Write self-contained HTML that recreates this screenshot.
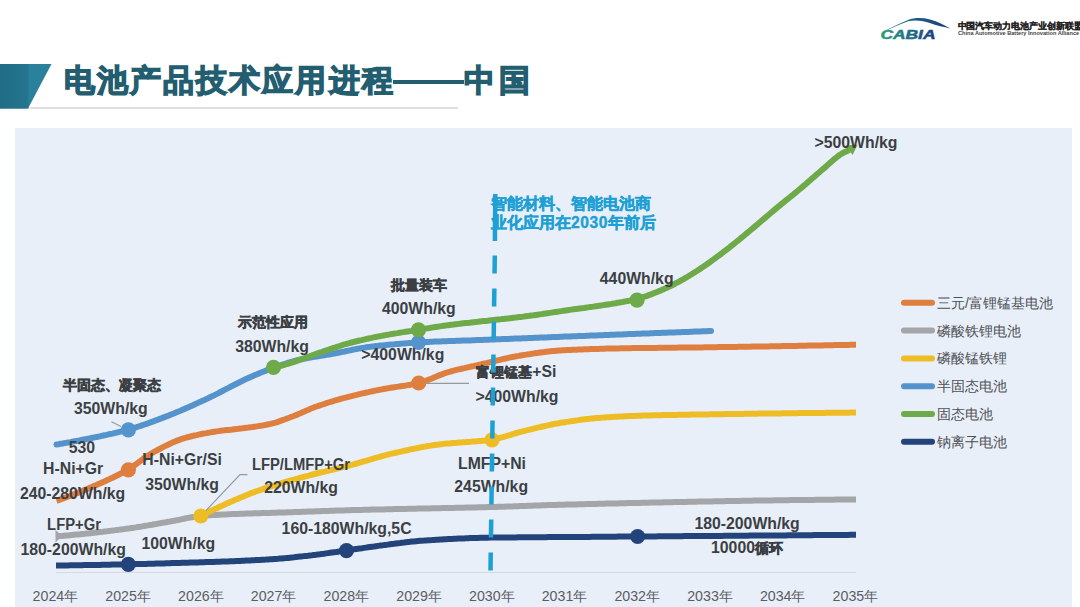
<!DOCTYPE html>
<html><head><meta charset="utf-8"><style>
html,body{margin:0;padding:0;background:#fff;}
body{width:1080px;height:607px;position:relative;overflow:hidden;font-family:"Liberation Sans",sans-serif;}
.c{-webkit-text-stroke:0.5px currentColor;}
.l{position:absolute;white-space:nowrap;transform:translate(-50%,-50%);line-height:1;}
.y{position:absolute;top:595.6px;transform:translate(-50%,-50%);white-space:nowrap;font-size:14.2px;color:#5a5d62;line-height:1;}
.lg{position:absolute;left:937px;transform:translateY(-50%);white-space:nowrap;font-size:14px;color:#4d5054;line-height:1;}
#bg{position:absolute;left:15px;top:128px;width:1057px;height:479px;background:#e9eff8;}
svg{position:absolute;left:0;top:0;}
.title{position:absolute;left:63.8px;top:80px;transform:translateY(-50%);font-size:30.5px;letter-spacing:2.1px;font-weight:bold;color:#235d70;white-space:nowrap;line-height:1;-webkit-text-stroke:1.3px #235d70;}
#note{position:absolute;left:491px;top:193.5px;font-size:15.6px;font-weight:bold;color:#1ea0d5;line-height:19px;white-space:nowrap;-webkit-text-stroke:0.4px #1ea0d5;}
#logo-cn{position:absolute;left:957.5px;top:25.5px;transform:translateY(-50%);font-size:8.6px;letter-spacing:-0.05px;-webkit-text-stroke:0.2px #222;font-weight:bold;color:#222;white-space:nowrap;line-height:1;}
#logo-en{position:absolute;left:958px;top:34.2px;transform:translateY(-50%);font-size:5.6px;font-weight:bold;color:#444;white-space:nowrap;line-height:1;}
</style></head><body>
<div id="bg"></div>
<svg width="1080" height="607" viewBox="0 0 1080 607">
 <defs>
  <linearGradient id="ban" x1="0" x2="1" y1="0" y2="0"><stop offset="0" stop-color="#206c85"/><stop offset="1" stop-color="#247590"/></linearGradient>
  <linearGradient id="sw" x1="0" x2="1" y1="0" y2="0"><stop offset="0" stop-color="#2a8c8c"/><stop offset="0.45" stop-color="#1d5e86"/><stop offset="1" stop-color="#183f7c"/></linearGradient>
  <linearGradient id="cab" x1="0" x2="1" y1="0" y2="0"><stop offset="0" stop-color="#2aa07a"/><stop offset="0.5" stop-color="#1f6f8a"/><stop offset="1" stop-color="#1b3f7a"/></linearGradient>
 </defs>
 <polygon points="0,64 51.5,64 28,108.5 0,108.5" fill="#2b809c"/><rect x="0" y="64" width="28.5" height="44.5" fill="url(#ban)"/>
 <line x1="30" y1="108" x2="458" y2="108" stroke="#d3d3d3" stroke-width="1.5"/>
  <!-- logo -->
 <path d="M882.5,32.2 C890,28 900,23.5 908,20 C914,17.6 922,17.4 930,19.4 C938,21.6 944,25 950.5,28.4 C944,27.2 937,25.6 929,22.8 C921,20.2 914,19.8 908,21.3 C900,24.3 890,28.8 882.5,32.2 Z" fill="url(#sw)"/>
 <text x="880.5" y="38.8" font-family="Liberation Sans" font-weight="bold" font-style="italic" font-size="12.5" fill="url(#cab)" stroke="url(#cab)" stroke-width="0.5" textLength="55" lengthAdjust="spacingAndGlyphs">CABIA</text>
<!-- axis -->
 <line x1="56" y1="572.5" x2="856" y2="572.5" stroke="#d5dbe3" stroke-width="1.2"/>
 <!-- lines -->
 <g fill="none" stroke-width="6" stroke-linejoin="round">
  <path d="M56.0,536.3 L58.0,536.2 L60.0,536.0 L62.0,535.9 L64.0,535.7 L66.0,535.5 L68.0,535.4 L70.0,535.2 L72.0,535.0 L74.0,534.8 L76.0,534.6 L78.0,534.4 L80.0,534.3 L82.0,534.1 L84.0,533.9 L86.0,533.6 L88.0,533.4 L90.0,533.2 L92.0,533.0 L94.0,532.8 L96.0,532.6 L98.0,532.3 L100.0,532.1 L102.0,531.9 L104.0,531.6 L106.0,531.4 L108.0,531.1 L110.0,530.9 L112.0,530.6 L114.0,530.4 L116.0,530.1 L118.0,529.9 L120.0,529.6 L122.0,529.4 L124.0,529.1 L126.0,528.8 L128.0,528.6 L130.0,528.3 L132.0,528.0 L134.0,527.7 L136.0,527.4 L138.0,527.0 L140.0,526.7 L142.0,526.4 L144.0,526.0 L146.0,525.7 L148.0,525.4 L150.0,525.0 L152.0,524.7 L154.0,524.3 L156.0,524.0 L158.0,523.6 L160.0,523.3 L162.0,522.9 L164.0,522.5 L166.0,522.2 L168.0,521.8 L170.0,521.5 L172.0,521.1 L174.0,520.8 L176.0,520.4 L178.0,520.0 L180.0,519.6 L182.0,519.1 L184.0,518.7 L186.0,518.3 L188.0,517.9 L190.0,517.5 L192.0,517.2 L194.0,516.9 L196.0,516.6 L198.0,516.3 L200.0,516.1 L202.0,515.9 L204.0,515.7 L206.0,515.6 L208.0,515.4 L210.0,515.3 L212.0,515.1 L214.0,515.0 L216.0,514.9 L218.0,514.8 L220.0,514.7 L222.0,514.6 L224.0,514.5 L226.0,514.4 L228.0,514.3 L230.0,514.2 L232.0,514.1 L234.0,514.0 L236.0,514.0 L238.0,513.9 L240.0,513.8 L242.0,513.7 L244.0,513.7 L246.0,513.6 L248.0,513.5 L250.0,513.5 L252.0,513.4 L254.0,513.3 L256.0,513.3 L258.0,513.2 L260.0,513.2 L262.0,513.1 L264.0,513.0 L266.0,513.0 L268.0,512.9 L270.0,512.9 L272.0,512.8 L274.0,512.8 L276.0,512.7 L278.0,512.6 L280.0,512.6 L282.0,512.5 L284.0,512.5 L286.0,512.4 L288.0,512.3 L290.0,512.3 L292.0,512.2 L294.0,512.1 L296.0,512.0 L298.0,512.0 L300.0,511.9 L302.0,511.8 L304.0,511.8 L306.0,511.7 L308.0,511.6 L310.0,511.6 L312.0,511.5 L314.0,511.4 L316.0,511.3 L318.0,511.3 L320.0,511.2 L322.0,511.1 L324.0,511.1 L326.0,511.0 L328.0,510.9 L330.0,510.8 L332.0,510.8 L334.0,510.7 L336.0,510.6 L338.0,510.6 L340.0,510.5 L342.0,510.4 L344.0,510.4 L346.0,510.3 L348.0,510.3 L350.0,510.2 L352.0,510.1 L354.0,510.1 L356.0,510.0 L358.0,510.0 L360.0,509.9 L362.0,509.9 L364.0,509.8 L366.0,509.8 L368.0,509.7 L370.0,509.7 L372.0,509.6 L374.0,509.6 L376.0,509.5 L378.0,509.5 L380.0,509.4 L382.0,509.4 L384.0,509.4 L386.0,509.3 L388.0,509.3 L390.0,509.2 L392.0,509.2 L394.0,509.1 L396.0,509.1 L398.0,509.1 L400.0,509.0 L402.0,509.0 L404.0,508.9 L406.0,508.9 L408.0,508.8 L410.0,508.8 L412.0,508.8 L414.0,508.7 L416.0,508.7 L418.0,508.6 L420.0,508.6 L422.0,508.5 L424.0,508.5 L426.0,508.5 L428.0,508.4 L430.0,508.4 L432.0,508.3 L434.0,508.3 L436.0,508.2 L438.0,508.2 L440.0,508.2 L442.0,508.1 L444.0,508.1 L446.0,508.0 L448.0,508.0 L450.0,508.0 L452.0,507.9 L454.0,507.9 L456.0,507.8 L458.0,507.8 L460.0,507.7 L462.0,507.7 L464.0,507.7 L466.0,507.6 L468.0,507.6 L470.0,507.5 L472.0,507.5 L474.0,507.4 L476.0,507.4 L478.0,507.3 L480.0,507.3 L482.0,507.3 L484.0,507.2 L486.0,507.2 L488.0,507.1 L490.0,507.1 L492.0,507.0 L494.0,506.9 L496.0,506.9 L498.0,506.8 L500.0,506.8 L502.0,506.7 L504.0,506.7 L506.0,506.6 L508.0,506.5 L510.0,506.5 L512.0,506.4 L514.0,506.3 L516.0,506.3 L518.0,506.2 L520.0,506.1 L522.0,506.0 L524.0,506.0 L526.0,505.9 L528.0,505.8 L530.0,505.8 L532.0,505.7 L534.0,505.6 L536.0,505.6 L538.0,505.5 L540.0,505.4 L542.0,505.3 L544.0,505.3 L546.0,505.2 L548.0,505.1 L550.0,505.1 L552.0,505.0 L554.0,504.9 L556.0,504.9 L558.0,504.8 L560.0,504.8 L562.0,504.7 L564.0,504.7 L566.0,504.6 L568.0,504.5 L570.0,504.5 L572.0,504.5 L574.0,504.4 L576.0,504.4 L578.0,504.3 L580.0,504.3 L582.0,504.2 L584.0,504.2 L586.0,504.1 L588.0,504.1 L590.0,504.0 L592.0,504.0 L594.0,503.9 L596.0,503.9 L598.0,503.8 L600.0,503.8 L602.0,503.7 L604.0,503.7 L606.0,503.6 L608.0,503.6 L610.0,503.6 L612.0,503.5 L614.0,503.5 L616.0,503.4 L618.0,503.4 L620.0,503.3 L622.0,503.3 L624.0,503.2 L626.0,503.2 L628.0,503.1 L630.0,503.1 L632.0,503.0 L634.0,503.0 L636.0,503.0 L638.0,502.9 L640.0,502.9 L642.0,502.8 L644.0,502.8 L646.0,502.7 L648.0,502.7 L650.0,502.6 L652.0,502.6 L654.0,502.6 L656.0,502.5 L658.0,502.5 L660.0,502.4 L662.0,502.4 L664.0,502.3 L666.0,502.3 L668.0,502.3 L670.0,502.2 L672.0,502.2 L674.0,502.1 L676.0,502.1 L678.0,502.1 L680.0,502.0 L682.0,502.0 L684.0,501.9 L686.0,501.9 L688.0,501.8 L690.0,501.8 L692.0,501.8 L694.0,501.7 L696.0,501.7 L698.0,501.6 L700.0,501.6 L702.0,501.6 L704.0,501.5 L706.0,501.5 L708.0,501.5 L710.0,501.4 L712.0,501.4 L714.0,501.3 L716.0,501.3 L718.0,501.3 L720.0,501.2 L722.0,501.2 L724.0,501.2 L726.0,501.1 L728.0,501.1 L730.0,501.1 L732.0,501.0 L734.0,501.0 L736.0,500.9 L738.0,500.9 L740.0,500.9 L742.0,500.8 L744.0,500.8 L746.0,500.8 L748.0,500.7 L750.0,500.7 L752.0,500.7 L754.0,500.6 L756.0,500.6 L758.0,500.6 L760.0,500.6 L762.0,500.5 L764.0,500.5 L766.0,500.5 L768.0,500.4 L770.0,500.4 L772.0,500.4 L774.0,500.3 L776.0,500.3 L778.0,500.3 L780.0,500.3 L782.0,500.2 L784.0,500.2 L786.0,500.2 L788.0,500.2 L790.0,500.1 L792.0,500.1 L794.0,500.1 L796.0,500.1 L798.0,500.0 L800.0,500.0 L802.0,500.0 L804.0,500.0 L806.0,499.9 L808.0,499.9 L810.0,499.9 L812.0,499.9 L814.0,499.9 L816.0,499.8 L818.0,499.8 L820.0,499.8 L822.0,499.8 L824.0,499.7 L826.0,499.7 L828.0,499.7 L830.0,499.7 L832.0,499.7 L834.0,499.7 L836.0,499.6 L838.0,499.6 L840.0,499.6 L842.0,499.6 L844.0,499.6 L846.0,499.6 L848.0,499.6 L850.0,499.5 L852.0,499.5 L854.0,499.5 L856.0,499.5" stroke="#a3a5a8"/>
  <path d="M56.0,565.5 L58.0,565.5 L60.0,565.5 L62.0,565.4 L64.0,565.4 L66.0,565.4 L68.0,565.4 L70.0,565.3 L72.0,565.3 L74.0,565.3 L76.0,565.2 L78.0,565.2 L80.0,565.2 L82.0,565.2 L84.0,565.1 L86.0,565.1 L88.0,565.1 L90.0,565.0 L92.0,565.0 L94.0,565.0 L96.0,564.9 L98.0,564.9 L100.0,564.9 L102.0,564.8 L104.0,564.8 L106.0,564.7 L108.0,564.7 L110.0,564.7 L112.0,564.6 L114.0,564.6 L116.0,564.6 L118.0,564.5 L120.0,564.5 L122.0,564.4 L124.0,564.4 L126.0,564.3 L128.0,564.3 L130.0,564.3 L132.0,564.2 L134.0,564.2 L136.0,564.1 L138.0,564.1 L140.0,564.0 L142.0,564.0 L144.0,563.9 L146.0,563.9 L148.0,563.8 L150.0,563.8 L152.0,563.7 L154.0,563.7 L156.0,563.6 L158.0,563.6 L160.0,563.5 L162.0,563.4 L164.0,563.4 L166.0,563.3 L168.0,563.3 L170.0,563.2 L172.0,563.1 L174.0,563.1 L176.0,563.0 L178.0,563.0 L180.0,562.9 L182.0,562.8 L184.0,562.8 L186.0,562.7 L188.0,562.7 L190.0,562.6 L192.0,562.5 L194.0,562.5 L196.0,562.4 L198.0,562.4 L200.0,562.3 L202.0,562.2 L204.0,562.2 L206.0,562.1 L208.0,562.1 L210.0,562.0 L212.0,561.9 L214.0,561.9 L216.0,561.8 L218.0,561.7 L220.0,561.7 L222.0,561.6 L224.0,561.5 L226.0,561.5 L228.0,561.4 L230.0,561.3 L232.0,561.2 L234.0,561.2 L236.0,561.1 L238.0,561.0 L240.0,560.9 L242.0,560.8 L244.0,560.7 L246.0,560.6 L248.0,560.5 L250.0,560.4 L252.0,560.3 L254.0,560.2 L256.0,560.1 L258.0,560.0 L260.0,559.9 L262.0,559.8 L264.0,559.7 L266.0,559.6 L268.0,559.4 L270.0,559.3 L272.0,559.2 L274.0,559.0 L276.0,558.9 L278.0,558.8 L280.0,558.6 L282.0,558.4 L284.0,558.2 L286.0,558.1 L288.0,557.9 L290.0,557.7 L292.0,557.5 L294.0,557.3 L296.0,557.0 L298.0,556.8 L300.0,556.6 L302.0,556.4 L304.0,556.1 L306.0,555.9 L308.0,555.7 L310.0,555.4 L312.0,555.2 L314.0,554.9 L316.0,554.7 L318.0,554.4 L320.0,554.2 L322.0,553.9 L324.0,553.7 L326.0,553.4 L328.0,553.1 L330.0,552.8 L332.0,552.5 L334.0,552.2 L336.0,552.0 L338.0,551.7 L340.0,551.4 L342.0,551.1 L344.0,550.8 L346.0,550.5 L348.0,550.2 L350.0,549.9 L352.0,549.6 L354.0,549.3 L356.0,549.0 L358.0,548.7 L360.0,548.4 L362.0,548.2 L364.0,547.9 L366.0,547.6 L368.0,547.3 L370.0,547.0 L372.0,546.7 L374.0,546.5 L376.0,546.2 L378.0,545.9 L380.0,545.6 L382.0,545.4 L384.0,545.1 L386.0,544.9 L388.0,544.6 L390.0,544.3 L392.0,544.0 L394.0,543.8 L396.0,543.5 L398.0,543.2 L400.0,543.0 L402.0,542.7 L404.0,542.5 L406.0,542.2 L408.0,542.0 L410.0,541.8 L412.0,541.5 L414.0,541.4 L416.0,541.2 L418.0,541.0 L420.0,540.8 L422.0,540.7 L424.0,540.6 L426.0,540.4 L428.0,540.3 L430.0,540.2 L432.0,540.1 L434.0,539.9 L436.0,539.8 L438.0,539.7 L440.0,539.6 L442.0,539.5 L444.0,539.3 L446.0,539.2 L448.0,539.1 L450.0,539.0 L452.0,538.9 L454.0,538.8 L456.0,538.7 L458.0,538.6 L460.0,538.5 L462.0,538.5 L464.0,538.4 L466.0,538.3 L468.0,538.2 L470.0,538.1 L472.0,538.1 L474.0,538.0 L476.0,537.9 L478.0,537.9 L480.0,537.8 L482.0,537.8 L484.0,537.7 L486.0,537.7 L488.0,537.7 L490.0,537.6 L492.0,537.6 L494.0,537.6 L496.0,537.5 L498.0,537.5 L500.0,537.5 L502.0,537.5 L504.0,537.5 L506.0,537.4 L508.0,537.4 L510.0,537.4 L512.0,537.4 L514.0,537.4 L516.0,537.4 L518.0,537.3 L520.0,537.3 L522.0,537.3 L524.0,537.3 L526.0,537.3 L528.0,537.3 L530.0,537.3 L532.0,537.2 L534.0,537.2 L536.0,537.2 L538.0,537.2 L540.0,537.2 L542.0,537.2 L544.0,537.2 L546.0,537.2 L548.0,537.1 L550.0,537.1 L552.0,537.1 L554.0,537.1 L556.0,537.1 L558.0,537.1 L560.0,537.1 L562.0,537.1 L564.0,537.0 L566.0,537.0 L568.0,537.0 L570.0,537.0 L572.0,537.0 L574.0,537.0 L576.0,537.0 L578.0,536.9 L580.0,536.9 L582.0,536.9 L584.0,536.9 L586.0,536.9 L588.0,536.9 L590.0,536.9 L592.0,536.8 L594.0,536.8 L596.0,536.8 L598.0,536.8 L600.0,536.8 L602.0,536.8 L604.0,536.7 L606.0,536.7 L608.0,536.7 L610.0,536.7 L612.0,536.7 L614.0,536.7 L616.0,536.7 L618.0,536.6 L620.0,536.6 L622.0,536.6 L624.0,536.6 L626.0,536.6 L628.0,536.6 L630.0,536.6 L632.0,536.5 L634.0,536.5 L636.0,536.5 L638.0,536.5 L640.0,536.5 L642.0,536.5 L644.0,536.5 L646.0,536.4 L648.0,536.4 L650.0,536.4 L652.0,536.4 L654.0,536.4 L656.0,536.4 L658.0,536.3 L660.0,536.3 L662.0,536.3 L664.0,536.3 L666.0,536.3 L668.0,536.3 L670.0,536.3 L672.0,536.2 L674.0,536.2 L676.0,536.2 L678.0,536.2 L680.0,536.2 L682.0,536.2 L684.0,536.1 L686.0,536.1 L688.0,536.1 L690.0,536.1 L692.0,536.1 L694.0,536.1 L696.0,536.1 L698.0,536.0 L700.0,536.0 L702.0,536.0 L704.0,536.0 L706.0,536.0 L708.0,536.0 L710.0,535.9 L712.0,535.9 L714.0,535.9 L716.0,535.9 L718.0,535.9 L720.0,535.9 L722.0,535.9 L724.0,535.8 L726.0,535.8 L728.0,535.8 L730.0,535.8 L732.0,535.8 L734.0,535.8 L736.0,535.7 L738.0,535.7 L740.0,535.7 L742.0,535.7 L744.0,535.7 L746.0,535.7 L748.0,535.7 L750.0,535.6 L752.0,535.6 L754.0,535.6 L756.0,535.6 L758.0,535.6 L760.0,535.6 L762.0,535.5 L764.0,535.5 L766.0,535.5 L768.0,535.5 L770.0,535.5 L772.0,535.5 L774.0,535.5 L776.0,535.4 L778.0,535.4 L780.0,535.4 L782.0,535.4 L784.0,535.4 L786.0,535.4 L788.0,535.3 L790.0,535.3 L792.0,535.3 L794.0,535.3 L796.0,535.3 L798.0,535.3 L800.0,535.2 L802.0,535.2 L804.0,535.2 L806.0,535.2 L808.0,535.2 L810.0,535.2 L812.0,535.2 L814.0,535.1 L816.0,535.1 L818.0,535.1 L820.0,535.1 L822.0,535.1 L824.0,535.1 L826.0,535.0 L828.0,535.0 L830.0,535.0 L832.0,535.0 L834.0,535.0 L836.0,535.0 L838.0,534.9 L840.0,534.9 L842.0,534.9 L844.0,534.9 L846.0,534.9 L848.0,534.9 L850.0,534.8 L852.0,534.8 L854.0,534.8 L856.0,534.8" stroke="#23447a"/>
  <path d="M200.7,516.0 L202.7,515.0 L204.7,514.0 L206.7,513.0 L208.7,512.0 L210.7,511.0 L212.7,510.1 L214.7,509.1 L216.7,508.2 L218.7,507.2 L220.7,506.3 L222.7,505.4 L224.7,504.5 L226.7,503.6 L228.7,502.7 L230.7,501.8 L232.7,501.0 L234.7,500.1 L236.7,499.2 L238.7,498.4 L240.7,497.5 L242.7,496.7 L244.7,495.9 L246.7,495.0 L248.7,494.2 L250.7,493.4 L252.7,492.7 L254.7,491.9 L256.7,491.2 L258.7,490.5 L260.7,489.8 L262.7,489.1 L264.7,488.4 L266.7,487.7 L268.7,487.1 L270.7,486.4 L272.7,485.8 L274.7,485.2 L276.7,484.6 L278.7,484.0 L280.7,483.4 L282.7,482.8 L284.7,482.2 L286.7,481.6 L288.7,481.0 L290.7,480.5 L292.7,479.9 L294.7,479.4 L296.7,478.8 L298.7,478.3 L300.7,477.7 L302.7,477.2 L304.7,476.6 L306.7,476.1 L308.7,475.6 L310.7,475.0 L312.7,474.5 L314.7,474.0 L316.7,473.5 L318.7,473.0 L320.7,472.5 L322.7,472.0 L324.7,471.6 L326.7,471.1 L328.7,470.6 L330.7,470.1 L332.7,469.6 L334.7,469.2 L336.7,468.7 L338.7,468.2 L340.7,467.7 L342.7,467.2 L344.7,466.7 L346.7,466.2 L348.7,465.7 L350.7,465.1 L352.7,464.6 L354.7,464.0 L356.7,463.5 L358.7,462.9 L360.7,462.3 L362.7,461.7 L364.7,461.1 L366.7,460.6 L368.7,460.0 L370.7,459.4 L372.7,458.8 L374.7,458.2 L376.7,457.6 L378.7,457.1 L380.7,456.5 L382.7,456.0 L384.7,455.4 L386.7,454.9 L388.7,454.4 L390.7,453.9 L392.7,453.4 L394.7,453.0 L396.7,452.5 L398.7,452.1 L400.7,451.6 L402.7,451.2 L404.7,450.7 L406.7,450.3 L408.7,449.8 L410.7,449.4 L412.7,449.0 L414.7,448.6 L416.7,448.2 L418.7,447.8 L420.7,447.4 L422.7,447.0 L424.7,446.6 L426.7,446.3 L428.7,445.9 L430.7,445.6 L432.7,445.3 L434.7,445.0 L436.7,444.7 L438.7,444.5 L440.7,444.2 L442.7,444.0 L444.7,443.8 L446.7,443.6 L448.7,443.4 L450.7,443.3 L452.7,443.1 L454.7,442.9 L456.7,442.8 L458.7,442.6 L460.7,442.5 L462.7,442.3 L464.7,442.2 L466.7,442.0 L468.7,441.9 L470.7,441.7 L472.7,441.6 L474.7,441.4 L476.7,441.3 L478.7,441.1 L480.7,440.9 L482.7,440.7 L484.7,440.5 L486.7,440.2 L488.7,440.0 L490.7,439.7 L492.7,439.4 L494.7,439.1 L496.7,438.7 L498.7,438.2 L500.7,437.7 L502.7,437.2 L504.7,436.6 L506.7,436.0 L508.7,435.4 L510.7,434.8 L512.7,434.1 L514.7,433.5 L516.7,433.0 L518.7,432.4 L520.7,431.9 L522.7,431.4 L524.7,430.9 L526.7,430.4 L528.7,429.9 L530.7,429.4 L532.7,428.9 L534.7,428.4 L536.7,427.9 L538.7,427.4 L540.7,427.0 L542.7,426.5 L544.7,426.0 L546.7,425.6 L548.7,425.1 L550.7,424.7 L552.7,424.3 L554.7,423.9 L556.7,423.5 L558.7,423.2 L560.7,422.8 L562.7,422.5 L564.7,422.2 L566.7,421.9 L568.7,421.6 L570.7,421.3 L572.7,421.0 L574.7,420.7 L576.7,420.4 L578.7,420.1 L580.7,419.8 L582.7,419.6 L584.7,419.3 L586.7,419.1 L588.7,418.9 L590.7,418.6 L592.7,418.4 L594.7,418.2 L596.7,418.0 L598.7,417.9 L600.7,417.7 L602.7,417.6 L604.7,417.4 L606.7,417.3 L608.7,417.2 L610.7,417.0 L612.7,416.9 L614.7,416.8 L616.7,416.7 L618.7,416.6 L620.7,416.5 L622.7,416.4 L624.7,416.3 L626.7,416.2 L628.7,416.1 L630.7,416.0 L632.7,415.9 L634.7,415.9 L636.7,415.8 L638.7,415.7 L640.7,415.7 L642.7,415.6 L644.7,415.6 L646.7,415.5 L648.7,415.4 L650.7,415.4 L652.7,415.3 L654.7,415.3 L656.7,415.3 L658.7,415.2 L660.7,415.2 L662.7,415.1 L664.7,415.1 L666.7,415.0 L668.7,415.0 L670.7,415.0 L672.7,414.9 L674.7,414.9 L676.7,414.9 L678.7,414.8 L680.7,414.8 L682.7,414.8 L684.7,414.7 L686.7,414.7 L688.7,414.7 L690.7,414.6 L692.7,414.6 L694.7,414.6 L696.7,414.6 L698.7,414.5 L700.7,414.5 L702.7,414.5 L704.7,414.4 L706.7,414.4 L708.7,414.4 L710.7,414.3 L712.7,414.3 L714.7,414.3 L716.7,414.2 L718.7,414.2 L720.7,414.2 L722.7,414.2 L724.7,414.1 L726.7,414.1 L728.7,414.1 L730.7,414.0 L732.7,414.0 L734.7,414.0 L736.7,413.9 L738.7,413.9 L740.7,413.9 L742.7,413.9 L744.7,413.8 L746.7,413.8 L748.7,413.8 L750.7,413.7 L752.7,413.7 L754.7,413.7 L756.7,413.7 L758.7,413.6 L760.7,413.6 L762.7,413.6 L764.7,413.6 L766.7,413.5 L768.7,413.5 L770.7,413.5 L772.7,413.5 L774.7,413.4 L776.7,413.4 L778.7,413.4 L780.7,413.4 L782.7,413.3 L784.7,413.3 L786.7,413.3 L788.7,413.3 L790.7,413.2 L792.7,413.2 L794.7,413.2 L796.7,413.2 L798.7,413.1 L800.7,413.1 L802.7,413.1 L804.7,413.1 L806.7,413.0 L808.7,413.0 L810.7,413.0 L812.7,413.0 L814.7,413.0 L816.7,412.9 L818.7,412.9 L820.7,412.9 L822.7,412.9 L824.7,412.9 L826.7,412.8 L828.7,412.8 L830.7,412.8 L832.7,412.8 L834.7,412.8 L836.7,412.8 L838.7,412.7 L840.7,412.7 L842.7,412.7 L844.7,412.7 L846.7,412.7 L848.7,412.7 L850.7,412.6 L852.7,412.6 L854.7,412.6 L856.0,412.6" stroke="#eebd25"/>
  <path d="M56.5,500.8 L58.5,500.1 L60.5,499.4 L62.5,498.7 L64.5,497.9 L66.5,497.2 L68.5,496.5 L70.5,495.7 L72.5,494.9 L74.5,494.1 L76.5,493.4 L78.5,492.6 L80.5,491.7 L82.5,490.9 L84.5,490.1 L86.5,489.3 L88.5,488.4 L90.5,487.6 L92.5,486.7 L94.5,485.8 L96.5,485.0 L98.5,484.1 L100.5,483.2 L102.5,482.3 L104.5,481.4 L106.5,480.5 L108.5,479.6 L110.5,478.6 L112.5,477.7 L114.5,476.7 L116.5,475.7 L118.5,474.7 L120.5,473.7 L122.5,472.6 L124.5,471.5 L126.5,470.4 L128.5,469.3 L130.5,468.0 L132.5,466.7 L134.5,465.3 L136.5,463.9 L138.5,462.4 L140.5,460.9 L142.5,459.5 L144.5,458.0 L146.5,456.6 L148.5,455.2 L150.5,454.0 L152.5,452.8 L154.5,451.7 L156.5,450.6 L158.5,449.5 L160.5,448.5 L162.5,447.4 L164.5,446.4 L166.5,445.4 L168.5,444.5 L170.5,443.5 L172.5,442.6 L174.5,441.7 L176.5,440.9 L178.5,440.1 L180.5,439.4 L182.5,438.7 L184.5,438.1 L186.5,437.5 L188.5,437.0 L190.5,436.5 L192.5,436.0 L194.5,435.5 L196.5,435.1 L198.5,434.6 L200.5,434.2 L202.5,433.8 L204.5,433.4 L206.5,433.1 L208.5,432.7 L210.5,432.4 L212.5,432.0 L214.5,431.7 L216.5,431.4 L218.5,431.1 L220.5,430.8 L222.5,430.6 L224.5,430.3 L226.5,430.1 L228.5,429.9 L230.5,429.7 L232.5,429.5 L234.5,429.2 L236.5,429.0 L238.5,428.8 L240.5,428.5 L242.5,428.3 L244.5,428.0 L246.5,427.7 L248.5,427.5 L250.5,427.2 L252.5,427.0 L254.5,426.7 L256.5,426.4 L258.5,426.1 L260.5,425.8 L262.5,425.5 L264.5,425.1 L266.5,424.7 L268.5,424.3 L270.5,423.9 L272.5,423.4 L274.5,422.9 L276.5,422.3 L278.5,421.6 L280.5,420.9 L282.5,420.2 L284.5,419.5 L286.5,418.7 L288.5,418.0 L290.5,417.2 L292.5,416.5 L294.5,415.7 L296.5,414.9 L298.5,414.0 L300.5,413.2 L302.5,412.3 L304.5,411.4 L306.5,410.5 L308.5,409.7 L310.5,408.8 L312.5,408.0 L314.5,407.2 L316.5,406.5 L318.5,405.8 L320.5,405.1 L322.5,404.5 L324.5,403.8 L326.5,403.2 L328.5,402.5 L330.5,401.9 L332.5,401.3 L334.5,400.7 L336.5,400.1 L338.5,399.5 L340.5,399.0 L342.5,398.4 L344.5,397.9 L346.5,397.4 L348.5,396.8 L350.5,396.3 L352.5,395.8 L354.5,395.3 L356.5,394.8 L358.5,394.3 L360.5,393.9 L362.5,393.4 L364.5,393.0 L366.5,392.5 L368.5,392.1 L370.5,391.6 L372.5,391.2 L374.5,390.8 L376.5,390.4 L378.5,390.0 L380.5,389.6 L382.5,389.2 L384.5,388.8 L386.5,388.5 L388.5,388.1 L390.5,387.8 L392.5,387.5 L394.5,387.2 L396.5,386.9 L398.5,386.6 L400.5,386.3 L402.5,386.0 L404.5,385.7 L406.5,385.4 L408.5,385.0 L410.5,384.7 L412.5,384.3 L414.5,383.9 L416.5,383.5 L418.5,383.0 L420.5,382.5 L422.5,381.9 L424.5,381.3 L426.5,380.6 L428.5,379.8 L430.5,379.0 L432.5,378.2 L434.5,377.3 L436.5,376.5 L438.5,375.6 L440.5,374.8 L442.5,374.1 L444.5,373.3 L446.5,372.7 L448.5,372.1 L450.5,371.5 L452.5,371.0 L454.5,370.4 L456.5,369.9 L458.5,369.4 L460.5,369.0 L462.5,368.5 L464.5,368.1 L466.5,367.6 L468.5,367.2 L470.5,366.7 L472.5,366.3 L474.5,365.8 L476.5,365.4 L478.5,364.9 L480.5,364.5 L482.5,364.0 L484.5,363.5 L486.5,363.1 L488.5,362.6 L490.5,362.1 L492.5,361.6 L494.5,361.1 L496.5,360.6 L498.5,360.1 L500.5,359.7 L502.5,359.2 L504.5,358.7 L506.5,358.3 L508.5,357.8 L510.5,357.4 L512.5,357.0 L514.5,356.6 L516.5,356.2 L518.5,355.9 L520.5,355.5 L522.5,355.2 L524.5,354.9 L526.5,354.6 L528.5,354.3 L530.5,354.0 L532.5,353.6 L534.5,353.3 L536.5,353.1 L538.5,352.8 L540.5,352.5 L542.5,352.2 L544.5,352.0 L546.5,351.7 L548.5,351.5 L550.5,351.3 L552.5,351.1 L554.5,350.9 L556.5,350.7 L558.5,350.6 L560.5,350.5 L562.5,350.3 L564.5,350.2 L566.5,350.1 L568.5,350.0 L570.5,349.9 L572.5,349.8 L574.5,349.7 L576.5,349.7 L578.5,349.6 L580.5,349.5 L582.5,349.4 L584.5,349.3 L586.5,349.3 L588.5,349.2 L590.5,349.1 L592.5,349.0 L594.5,349.0 L596.5,348.9 L598.5,348.9 L600.5,348.8 L602.5,348.7 L604.5,348.7 L606.5,348.6 L608.5,348.6 L610.5,348.5 L612.5,348.5 L614.5,348.5 L616.5,348.4 L618.5,348.4 L620.5,348.3 L622.5,348.3 L624.5,348.3 L626.5,348.2 L628.5,348.2 L630.5,348.2 L632.5,348.1 L634.5,348.1 L636.5,348.1 L638.5,348.1 L640.5,348.0 L642.5,348.0 L644.5,348.0 L646.5,348.0 L648.5,347.9 L650.5,347.9 L652.5,347.9 L654.5,347.9 L656.5,347.9 L658.5,347.8 L660.5,347.8 L662.5,347.8 L664.5,347.8 L666.5,347.8 L668.5,347.7 L670.5,347.7 L672.5,347.7 L674.5,347.7 L676.5,347.7 L678.5,347.6 L680.5,347.6 L682.5,347.6 L684.5,347.6 L686.5,347.6 L688.5,347.5 L690.5,347.5 L692.5,347.5 L694.5,347.5 L696.5,347.4 L698.5,347.4 L700.5,347.4 L702.5,347.4 L704.5,347.3 L706.5,347.3 L708.5,347.3 L710.5,347.3 L712.5,347.2 L714.5,347.2 L716.5,347.2 L718.5,347.1 L720.5,347.1 L722.5,347.1 L724.5,347.1 L726.5,347.0 L728.5,347.0 L730.5,347.0 L732.5,346.9 L734.5,346.9 L736.5,346.9 L738.5,346.8 L740.5,346.8 L742.5,346.8 L744.5,346.7 L746.5,346.7 L748.5,346.7 L750.5,346.7 L752.5,346.6 L754.5,346.6 L756.5,346.6 L758.5,346.5 L760.5,346.5 L762.5,346.5 L764.5,346.4 L766.5,346.4 L768.5,346.4 L770.5,346.3 L772.5,346.3 L774.5,346.3 L776.5,346.2 L778.5,346.2 L780.5,346.2 L782.5,346.1 L784.5,346.1 L786.5,346.0 L788.5,346.0 L790.5,346.0 L792.5,345.9 L794.5,345.9 L796.5,345.9 L798.5,345.8 L800.5,345.8 L802.5,345.8 L804.5,345.7 L806.5,345.7 L808.5,345.6 L810.5,345.6 L812.5,345.6 L814.5,345.5 L816.5,345.5 L818.5,345.5 L820.5,345.4 L822.5,345.4 L824.5,345.3 L826.5,345.3 L828.5,345.3 L830.5,345.2 L832.5,345.2 L834.5,345.1 L836.5,345.1 L838.5,345.1 L840.5,345.0 L842.5,345.0 L844.5,344.9 L846.5,344.9 L848.5,344.9 L850.5,344.8 L852.5,344.8 L854.5,344.7 L856.0,344.7" stroke="#df7f3f"/>
  <path d="M56.5,444.5 L58.5,444.2 L60.5,443.8 L62.5,443.5 L64.5,443.1 L66.5,442.8 L68.5,442.4 L70.5,442.1 L72.5,441.7 L74.5,441.3 L76.5,441.0 L78.5,440.6 L80.5,440.2 L82.5,439.8 L84.5,439.4 L86.5,439.0 L88.5,438.6 L90.5,438.2 L92.5,437.8 L94.5,437.4 L96.5,437.0 L98.5,436.6 L100.5,436.2 L102.5,435.7 L104.5,435.3 L106.5,434.9 L108.5,434.4 L110.5,434.0 L112.5,433.6 L114.5,433.1 L116.5,432.6 L118.5,432.1 L120.5,431.6 L122.5,431.1 L124.5,430.6 L126.5,430.1 L128.5,429.5 L130.5,429.0 L132.5,428.4 L134.5,427.8 L136.5,427.2 L138.5,426.5 L140.5,425.9 L142.5,425.2 L144.5,424.5 L146.5,423.8 L148.5,423.1 L150.5,422.4 L152.5,421.7 L154.5,420.9 L156.5,420.2 L158.5,419.4 L160.5,418.7 L162.5,417.9 L164.5,417.1 L166.5,416.3 L168.5,415.6 L170.5,414.8 L172.5,414.0 L174.5,413.2 L176.5,412.3 L178.5,411.5 L180.5,410.7 L182.5,409.8 L184.5,408.9 L186.5,408.1 L188.5,407.2 L190.5,406.3 L192.5,405.4 L194.5,404.5 L196.5,403.6 L198.5,402.6 L200.5,401.7 L202.5,400.8 L204.5,399.9 L206.5,398.9 L208.5,398.0 L210.5,397.0 L212.5,396.1 L214.5,395.1 L216.5,394.1 L218.5,393.1 L220.5,392.0 L222.5,391.0 L224.5,389.9 L226.5,388.9 L228.5,387.9 L230.5,386.8 L232.5,385.8 L234.5,384.7 L236.5,383.7 L238.5,382.7 L240.5,381.7 L242.5,380.7 L244.5,379.8 L246.5,378.8 L248.5,377.9 L250.5,377.1 L252.5,376.2 L254.5,375.3 L256.5,374.5 L258.5,373.6 L260.5,372.8 L262.5,372.0 L264.5,371.2 L266.5,370.4 L268.5,369.7 L270.5,368.9 L272.5,368.2 L274.5,367.5 L276.5,366.8 L278.5,366.1 L280.5,365.4 L282.5,364.7 L284.5,364.0 L286.5,363.3 L288.5,362.7 L290.5,362.1 L292.5,361.5 L294.5,360.9 L296.5,360.4 L298.5,359.9 L300.5,359.4 L302.5,359.0 L304.5,358.6 L306.5,358.2 L308.5,357.8 L310.5,357.5 L312.5,357.1 L314.5,356.8 L316.5,356.5 L318.5,356.2 L320.5,355.9 L322.5,355.5 L324.5,355.2 L326.5,354.9 L328.5,354.6 L330.5,354.2 L332.5,353.9 L334.5,353.5 L336.5,353.1 L338.5,352.7 L340.5,352.3 L342.5,351.9 L344.5,351.5 L346.5,351.0 L348.5,350.6 L350.5,350.2 L352.5,349.8 L354.5,349.4 L356.5,349.0 L358.5,348.6 L360.5,348.2 L362.5,347.9 L364.5,347.6 L366.5,347.3 L368.5,347.0 L370.5,346.8 L372.5,346.5 L374.5,346.3 L376.5,346.1 L378.5,345.8 L380.5,345.6 L382.5,345.4 L384.5,345.2 L386.5,345.0 L388.5,344.8 L390.5,344.6 L392.5,344.4 L394.5,344.3 L396.5,344.1 L398.5,343.9 L400.5,343.7 L402.5,343.6 L404.5,343.4 L406.5,343.2 L408.5,343.1 L410.5,342.9 L412.5,342.8 L414.5,342.6 L416.5,342.5 L418.5,342.4 L420.5,342.3 L422.5,342.2 L424.5,342.1 L426.5,342.0 L428.5,341.9 L430.5,341.8 L432.5,341.7 L434.5,341.6 L436.5,341.6 L438.5,341.5 L440.5,341.4 L442.5,341.3 L444.5,341.3 L446.5,341.2 L448.5,341.1 L450.5,341.0 L452.5,341.0 L454.5,340.9 L456.5,340.8 L458.5,340.8 L460.5,340.7 L462.5,340.6 L464.5,340.6 L466.5,340.5 L468.5,340.4 L470.5,340.4 L472.5,340.3 L474.5,340.2 L476.5,340.1 L478.5,340.1 L480.5,340.0 L482.5,339.9 L484.5,339.8 L486.5,339.7 L488.5,339.7 L490.5,339.6 L492.5,339.5 L494.5,339.4 L496.5,339.3 L498.5,339.3 L500.5,339.2 L502.5,339.1 L504.5,339.0 L506.5,339.0 L508.5,338.9 L510.5,338.8 L512.5,338.7 L514.5,338.6 L516.5,338.6 L518.5,338.5 L520.5,338.4 L522.5,338.3 L524.5,338.2 L526.5,338.2 L528.5,338.1 L530.5,338.0 L532.5,337.9 L534.5,337.8 L536.5,337.8 L538.5,337.7 L540.5,337.6 L542.5,337.5 L544.5,337.4 L546.5,337.4 L548.5,337.3 L550.5,337.2 L552.5,337.1 L554.5,337.0 L556.5,337.0 L558.5,336.9 L560.5,336.8 L562.5,336.7 L564.5,336.6 L566.5,336.6 L568.5,336.5 L570.5,336.4 L572.5,336.3 L574.5,336.2 L576.5,336.2 L578.5,336.1 L580.5,336.0 L582.5,335.9 L584.5,335.9 L586.5,335.8 L588.5,335.7 L590.5,335.6 L592.5,335.5 L594.5,335.5 L596.5,335.4 L598.5,335.3 L600.5,335.2 L602.5,335.2 L604.5,335.1 L606.5,335.0 L608.5,334.9 L610.5,334.8 L612.5,334.8 L614.5,334.7 L616.5,334.6 L618.5,334.5 L620.5,334.5 L622.5,334.4 L624.5,334.3 L626.5,334.2 L628.5,334.1 L630.5,334.1 L632.5,334.0 L634.5,333.9 L636.5,333.8 L638.5,333.8 L640.5,333.7 L642.5,333.6 L644.5,333.5 L646.5,333.5 L648.5,333.4 L650.5,333.3 L652.5,333.2 L654.5,333.1 L656.5,333.1 L658.5,333.0 L660.5,332.9 L662.5,332.8 L664.5,332.8 L666.5,332.7 L668.5,332.6 L670.5,332.5 L672.5,332.5 L674.5,332.4 L676.5,332.3 L678.5,332.2 L680.5,332.2 L682.5,332.1 L684.5,332.0 L686.5,331.9 L688.5,331.9 L690.5,331.8 L692.5,331.7 L694.5,331.6 L696.5,331.5 L698.5,331.5 L700.5,331.4 L702.5,331.3 L704.5,331.2 L706.5,331.2 L708.5,331.1 L710.5,331.0 L711.0,331.0" stroke="#5593cd" stroke-linecap="round"/>
  <path d="M273.6,367.7 L275.6,367.2 L277.6,366.7 L279.6,366.2 L281.6,365.6 L283.6,365.1 L285.6,364.5 L287.6,363.9 L289.6,363.3 L291.6,362.7 L293.6,362.1 L295.6,361.4 L297.6,360.7 L299.6,360.0 L301.6,359.3 L303.6,358.5 L305.6,357.8 L307.6,357.0 L309.6,356.3 L311.6,355.5 L313.6,354.8 L315.6,354.1 L317.6,353.4 L319.6,352.7 L321.6,352.1 L323.6,351.4 L325.6,350.7 L327.6,350.0 L329.6,349.3 L331.6,348.6 L333.6,347.9 L335.6,347.3 L337.6,346.6 L339.6,346.0 L341.6,345.3 L343.6,344.7 L345.6,344.2 L347.6,343.6 L349.6,343.0 L351.6,342.5 L353.6,342.0 L355.6,341.5 L357.6,341.0 L359.6,340.5 L361.6,340.1 L363.6,339.6 L365.6,339.2 L367.6,338.7 L369.6,338.3 L371.6,337.9 L373.6,337.4 L375.6,337.0 L377.6,336.6 L379.6,336.2 L381.6,335.9 L383.6,335.5 L385.6,335.1 L387.6,334.7 L389.6,334.4 L391.6,334.0 L393.6,333.7 L395.6,333.4 L397.6,333.1 L399.6,332.7 L401.6,332.4 L403.6,332.1 L405.6,331.8 L407.6,331.5 L409.6,331.2 L411.6,330.9 L413.6,330.5 L415.6,330.2 L417.6,329.9 L419.6,329.6 L421.6,329.3 L423.6,328.9 L425.6,328.6 L427.6,328.3 L429.6,328.0 L431.6,327.6 L433.6,327.3 L435.6,327.0 L437.6,326.7 L439.6,326.4 L441.6,326.1 L443.6,325.8 L445.6,325.5 L447.6,325.3 L449.6,325.0 L451.6,324.7 L453.6,324.5 L455.6,324.2 L457.6,324.0 L459.6,323.8 L461.6,323.5 L463.6,323.3 L465.6,323.1 L467.6,322.9 L469.6,322.7 L471.6,322.4 L473.6,322.2 L475.6,322.0 L477.6,321.8 L479.6,321.5 L481.6,321.3 L483.6,321.1 L485.6,320.9 L487.6,320.7 L489.6,320.4 L491.6,320.2 L493.6,320.0 L495.6,319.8 L497.6,319.6 L499.6,319.4 L501.6,319.1 L503.6,318.9 L505.6,318.7 L507.6,318.5 L509.6,318.3 L511.6,318.0 L513.6,317.8 L515.6,317.6 L517.6,317.3 L519.6,317.1 L521.6,316.9 L523.6,316.6 L525.6,316.3 L527.6,316.1 L529.6,315.8 L531.6,315.5 L533.6,315.3 L535.6,315.0 L537.6,314.7 L539.6,314.4 L541.6,314.1 L543.6,313.8 L545.6,313.5 L547.6,313.2 L549.6,312.9 L551.6,312.6 L553.6,312.3 L555.6,312.0 L557.6,311.7 L559.6,311.4 L561.6,311.1 L563.6,310.8 L565.6,310.5 L567.6,310.2 L569.6,309.9 L571.6,309.6 L573.6,309.3 L575.6,309.1 L577.6,308.8 L579.6,308.5 L581.6,308.2 L583.6,308.0 L585.6,307.7 L587.6,307.4 L589.6,307.1 L591.6,306.9 L593.6,306.6 L595.6,306.3 L597.6,306.0 L599.6,305.7 L601.6,305.4 L603.6,305.1 L605.6,304.8 L607.6,304.5 L609.6,304.2 L611.6,303.9 L613.6,303.5 L615.6,303.2 L617.6,302.8 L619.6,302.5 L621.6,302.1 L623.6,301.8 L625.6,301.4 L627.6,301.0 L629.6,300.6 L631.6,300.1 L633.6,299.7 L635.6,299.2 L637.6,298.7 L639.6,298.1 L641.6,297.5 L643.6,296.9 L645.6,296.3 L647.6,295.6 L649.6,294.8 L651.6,294.1 L653.6,293.3 L655.6,292.5 L657.6,291.7 L659.6,290.9 L661.6,290.1 L663.6,289.2 L665.6,288.3 L667.6,287.4 L669.6,286.4 L671.6,285.5 L673.6,284.5 L675.6,283.4 L677.6,282.4 L679.6,281.3 L681.6,280.2 L683.6,279.1 L685.6,277.9 L687.6,276.7 L689.6,275.5 L691.6,274.3 L693.6,273.0 L695.6,271.7 L697.6,270.5 L699.6,269.2 L701.6,267.8 L703.6,266.5 L705.6,265.1 L707.6,263.7 L709.6,262.3 L711.6,260.8 L713.6,259.4 L715.6,257.9 L717.6,256.4 L719.6,255.0 L721.6,253.5 L723.6,251.9 L725.6,250.4 L727.6,248.8 L729.6,247.3 L731.6,245.7 L733.6,244.1 L735.6,242.5 L737.6,240.9 L739.6,239.3 L741.6,237.6 L743.6,236.0 L745.6,234.3 L747.6,232.6 L749.6,231.0 L751.6,229.3 L753.6,227.6 L755.6,225.9 L757.6,224.2 L759.6,222.5 L761.6,220.8 L763.6,219.1 L765.6,217.4 L767.6,215.7 L769.6,214.0 L771.6,212.3 L773.6,210.6 L775.6,208.9 L777.6,207.2 L779.6,205.6 L781.6,203.9 L783.6,202.3 L785.6,200.7 L787.6,199.1 L789.6,197.5 L791.6,195.9 L793.6,194.3 L795.6,192.6 L797.6,191.0 L799.6,189.3 L801.6,187.6 L803.6,185.9 L805.6,184.2 L807.6,182.4 L809.6,180.7 L811.6,178.9 L813.6,177.2 L815.6,175.4 L817.6,173.7 L819.6,172.0 L821.6,170.3 L823.6,168.6 L825.6,166.9 L827.6,165.1 L829.6,163.3 L831.6,161.5 L833.6,159.7 L835.6,158.1 L837.6,156.5 L839.6,155.0 L841.6,153.8 L843.6,152.6 L845.6,151.7 L847.6,150.8 L849.6,150.0 L850.0,149.9" stroke="#6eaa4a"/>
 </g>
 <polygon points="857.5,144.8 846.2,145.2 852.6,155" fill="#6eaa4a"/>
 <polygon points="55.5,530 62,536 55.5,542.5" fill="#a3a5a8"/>
 <!-- leader lines -->
 <g stroke="#959aa0" stroke-width="1.2" fill="none">
  <polyline points="206,510.5 240,474.6 247.5,474.6"/>
  <line x1="111.4" y1="421.8" x2="121" y2="426.5"/>
  <line x1="426" y1="383.3" x2="469" y2="383.3"/>
 </g>
 <!-- markers -->
 <circle cx="128.3" cy="564.3" r="7.6" fill="#23447a"/>
 <circle cx="346.5" cy="550.6" r="7.6" fill="#23447a"/>
 <circle cx="637.6" cy="536.5" r="7.6" fill="#23447a"/>
 <circle cx="128.4" cy="469.8" r="7.6" fill="#df7f3f"/>
 <circle cx="418.7" cy="383" r="7.6" fill="#df7f3f"/>
 <circle cx="128.4" cy="429.8" r="7.6" fill="#5593cd"/>
 <circle cx="418.5" cy="342.3" r="7.6" fill="#5593cd"/>
 <circle cx="200.8" cy="516" r="7.6" fill="#eebd25"/>
 <circle cx="492" cy="439.8" r="7.6" fill="#eebd25"/>
 <circle cx="273.5" cy="367.4" r="7.6" fill="#6eaa4a"/>
 <circle cx="418.5" cy="329.9" r="7.6" fill="#6eaa4a"/>
 <circle cx="637" cy="300.2" r="7.6" fill="#6eaa4a"/>
 <line x1="904" y1="302.8" x2="932" y2="302.8" stroke="#df7f3f" stroke-width="6" stroke-linecap="round"/><line x1="904" y1="330.6" x2="932" y2="330.6" stroke="#a3a5a8" stroke-width="6" stroke-linecap="round"/><line x1="904" y1="358.4" x2="932" y2="358.4" stroke="#eebd25" stroke-width="6" stroke-linecap="round"/><line x1="904" y1="386.2" x2="932" y2="386.2" stroke="#5593cd" stroke-width="6" stroke-linecap="round"/><line x1="904" y1="414.0" x2="932" y2="414.0" stroke="#6eaa4a" stroke-width="6" stroke-linecap="round"/><line x1="904" y1="441.8" x2="932" y2="441.8" stroke="#23447a" stroke-width="6" stroke-linecap="round"/>
</svg>
<div class="title">电池产品技术应用进程</div><div class="title" style="left:464px;letter-spacing:4px">中国</div><div style="position:absolute;left:393.4px;top:80px;width:70.4px;height:3.7px;background:#235d70"></div>
<div class="l" style="left:81.9px;top:447.5px;font-size:15.8px;color:#3b3f44;font-weight:bold;">530</div>
<div class="l" style="left:73.2px;top:468.5px;font-size:15.8px;color:#3b3f44;font-weight:bold;">H-Ni+Gr</div>
<div class="l" style="left:72.6px;top:493.5px;font-size:15.8px;color:#3b3f44;font-weight:bold;">240-280Wh/kg</div>
<div class="l" style="left:73.7px;top:524.6px;font-size:15.8px;color:#3b3f44;font-weight:bold;transform:translate(-50%,-50%) scaleX(0.935);">LFP+Gr</div>
<div class="l" style="left:73.2px;top:550.0px;font-size:15.8px;color:#3b3f44;font-weight:bold;">180-200Wh/kg</div>
<div class="l" style="left:182.1px;top:459.8px;font-size:15.8px;color:#3b3f44;font-weight:bold;">H-Ni+Gr/Si</div>
<div class="l" style="left:182.1px;top:484.5px;font-size:15.8px;color:#3b3f44;font-weight:bold;">350Wh/kg</div>
<div class="l" style="left:178.4px;top:543.5px;font-size:15.8px;color:#3b3f44;font-weight:bold;">100Wh/kg</div>
<div class="l" style="left:111.5px;top:384.6px;font-size:15.8px;color:#3b3f44;font-weight:bold;"><span class="c" style="font-size:14.2px">半固态、凝聚态</span></div>
<div class="l" style="left:110.9px;top:408.6px;font-size:15.8px;color:#3b3f44;font-weight:bold;">350Wh/kg</div>
<div class="l" style="left:273.2px;top:322.0px;font-size:15.8px;color:#3b3f44;font-weight:bold;"><span class="c" style="font-size:14.2px">示范性应用</span></div>
<div class="l" style="left:272.0px;top:346.5px;font-size:15.8px;color:#3b3f44;font-weight:bold;">380Wh/kg</div>
<div class="l" style="left:418.9px;top:285.0px;font-size:15.8px;color:#3b3f44;font-weight:bold;"><span class="c" style="font-size:14.2px">批量装车</span></div>
<div class="l" style="left:418.9px;top:309.2px;font-size:15.8px;color:#3b3f44;font-weight:bold;">400Wh/kg</div>
<div class="l" style="left:402.8px;top:354.5px;font-size:15.8px;color:#3b3f44;font-weight:bold;">&gt;400Wh/kg</div>
<div class="l" style="left:301.2px;top:464.6px;font-size:15.8px;color:#3b3f44;font-weight:bold;transform:translate(-50%,-50%) scaleX(0.935);">LFP/LMFP+Gr</div>
<div class="l" style="left:301.0px;top:488.0px;font-size:15.8px;color:#3b3f44;font-weight:bold;">220Wh/kg</div>
<div class="l" style="left:346.6px;top:529.2px;font-size:15.8px;color:#3b3f44;font-weight:bold;">160-180Wh/kg,5C</div>
<div class="l" style="left:516.4px;top:372.2px;font-size:15.8px;color:#3b3f44;font-weight:bold;"><span class="c" style="font-size:14.2px">富锂锰基</span>+Si</div>
<div class="l" style="left:517.0px;top:397.0px;font-size:15.8px;color:#3b3f44;font-weight:bold;">&gt;400Wh/kg</div>
<div class="l" style="left:492.0px;top:463.5px;font-size:15.8px;color:#3b3f44;font-weight:bold;">LMFP+Ni</div>
<div class="l" style="left:491.2px;top:487.0px;font-size:15.8px;color:#3b3f44;font-weight:bold;">245Wh/kg</div>
<div class="l" style="left:636.7px;top:278.7px;font-size:15.8px;color:#3b3f44;font-weight:bold;">440Wh/kg</div>
<div class="l" style="left:856.0px;top:143.3px;font-size:15.8px;color:#3b3f44;font-weight:bold;">&gt;500Wh/kg</div>
<div class="l" style="left:747.1px;top:523.8px;font-size:15.8px;color:#3b3f44;font-weight:bold;">180-200Wh/kg</div>
<div class="l" style="left:747.0px;top:547.5px;font-size:15.8px;color:#3b3f44;font-weight:bold;">10000<span class="c" style="font-size:14.2px">循环</span></div>
<div class="y" style="left:55.4px">2024年</div>
<div class="y" style="left:128.1px">2025年</div>
<div class="y" style="left:200.9px">2026年</div>
<div class="y" style="left:273.6px">2027年</div>
<div class="y" style="left:346.3px">2028年</div>
<div class="y" style="left:419.1px">2029年</div>
<div class="y" style="left:491.8px">2030年</div>
<div class="y" style="left:564.5px">2031年</div>
<div class="y" style="left:637.2px">2032年</div>
<div class="y" style="left:710.0px">2033年</div>
<div class="y" style="left:782.7px">2034年</div>
<div class="y" style="left:855.4px">2035年</div>
<div class="lg" style="top:302.8px">三元/富锂锰基电池</div>
<div class="lg" style="top:330.6px">磷酸铁锂电池</div>
<div class="lg" style="top:358.4px">磷酸锰铁锂</div>
<div class="lg" style="top:386.2px">半固态电池</div>
<div class="lg" style="top:414.0px">固态电池</div>
<div class="lg" style="top:441.8px">钠离子电池</div>
<div id="note">智能材料、智能电池商<br>业化应用在<span style="letter-spacing:0.6px">2030</span>年前后</div>
<svg width="1080" height="607" viewBox="0 0 1080 607" style="pointer-events:none">
 <line x1="495.3" y1="194" x2="494.9" y2="241" stroke="#1ea0d5" stroke-width="4.5"/>
 <line x1="494.8" y1="255.5" x2="490.5" y2="571" stroke="#1ea0d5" stroke-width="4.5" stroke-dasharray="18 15"/>
</svg>
<div id="logo-cn">中国汽车动力电池产业创新联盟</div>
<div id="logo-en">China Automotive Battery Innovation Alliance</div>
</body></html>
